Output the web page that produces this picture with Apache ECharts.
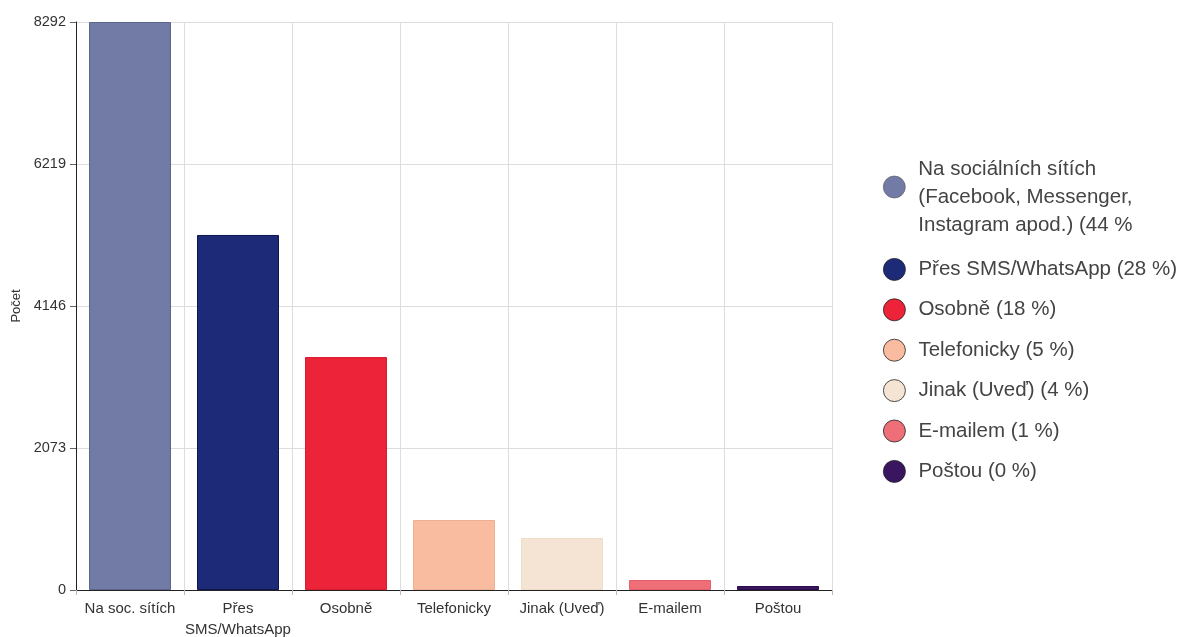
<!DOCTYPE html>
<html><head><meta charset="utf-8">
<script src="https://cdn.jsdelivr.net/npm/echarts@6/dist/echarts.min.js"></script>
<style>html,body{margin:0;padding:0;background:#fff}#c{width:1181px;height:637px}</style>
</head><body><div id="c"></div>
<script>
const categories = ['Na soc. sítích','Přes\nSMS/WhatsApp','Osobně','Telefonicky','Jinak (Uveď)','E-mailem','Poštou'];
const legendNames = ['Na sociálních sítích\n(Facebook, Messenger,\nInstagram apod.) (44 %','Přes SMS/WhatsApp (28 %)','Osobně (18 %)','Telefonicky (5 %)','Jinak (Uveď) (4 %)','E-mailem (1 %)','Poštou (0 %)'];
const values = [8292, 5183, 3401, 1022, 759, 146, 58];
const yTicks = [0, 2073, 4146, 6219, 8292];
const colors = ['#717BA5','#1D2A78','#EC2339','#F9BCA0','#F5E3D4','#EF6F79','#3A1660'];
const borders = ['#5c658c','#0e1650','#d81c30','#f0b093','#eedccb','#e2606b','#2a0c48'];

const series = values.map((v, i) => ({
  name: legendNames[i],
  type: 'bar',
  stack: 'all',
  barWidth: 82,
  data: categories.map((c, j) => j === i ? v : null),
  itemStyle: { color: colors[i], borderColor: borders[i], borderWidth: 1 }
}));

const chart = echarts.init(document.getElementById('c'));
chart.setOption({
  animation: false,
  textStyle: { fontFamily: 'Liberation Sans, Arial, sans-serif' },
  grid: { left: 76, right: 349, top: 22, bottom: 47, containLabel: false, outerBoundsMode: 'none' },
  legend: [
    {
      data: [legendNames[0]],
      orient: 'vertical', left: 878, top: 130,
      icon: 'circle', itemWidth: 38, itemHeight: 22,
      formatter: name => '{s| }\n' + name,
      textStyle: { fontSize: 20.5, color: '#444', lineHeight: 28, rich: { s: { fontSize: 10, lineHeight: 20 } } },
      itemStyle: { borderColor: '#555', borderWidth: 0.6 },
      selectedMode: false
    },
    {
      data: legendNames.slice(1),
      orient: 'vertical', left: 878, top: 253,
      icon: 'circle', itemWidth: 38, itemHeight: 22, itemGap: 17.6,
      textStyle: { fontSize: 20.5, color: '#444', lineHeight: 22 },
      itemStyle: { borderColor: '#222', borderWidth: 0.8 },
      selectedMode: false
    }
  ],
  xAxis: {
    type: 'category',
    data: categories,
    axisLine: { lineStyle: { color: '#222', width: 1 } },
    axisTick: { show: true, length: 5, lineStyle: { color: '#bbb' } },
    splitLine: { show: true, lineStyle: { color: '#ddd' } },
    axisLabel: { fontSize: 15, color: '#333', margin: 8, lineHeight: 21, interval: 0 }
  },
  yAxis: {
    type: 'value',
    min: 0, max: yTicks[yTicks.length - 1], interval: yTicks[1],
    name: 'Počet', nameLocation: 'middle', nameGap: 48,
    nameTextStyle: { fontSize: 13, color: '#333' },
    axisLine: { show: true, lineStyle: { color: '#222' } },
    axisTick: { show: true, length: 6, lineStyle: { color: '#666' } },
    splitLine: { show: true, lineStyle: { color: '#ddd' } },
    axisLabel: { fontSize: 14.5, color: '#333', margin: 10, formatter: v => String(v) }
  },
  series: series
});
</script></body></html>
